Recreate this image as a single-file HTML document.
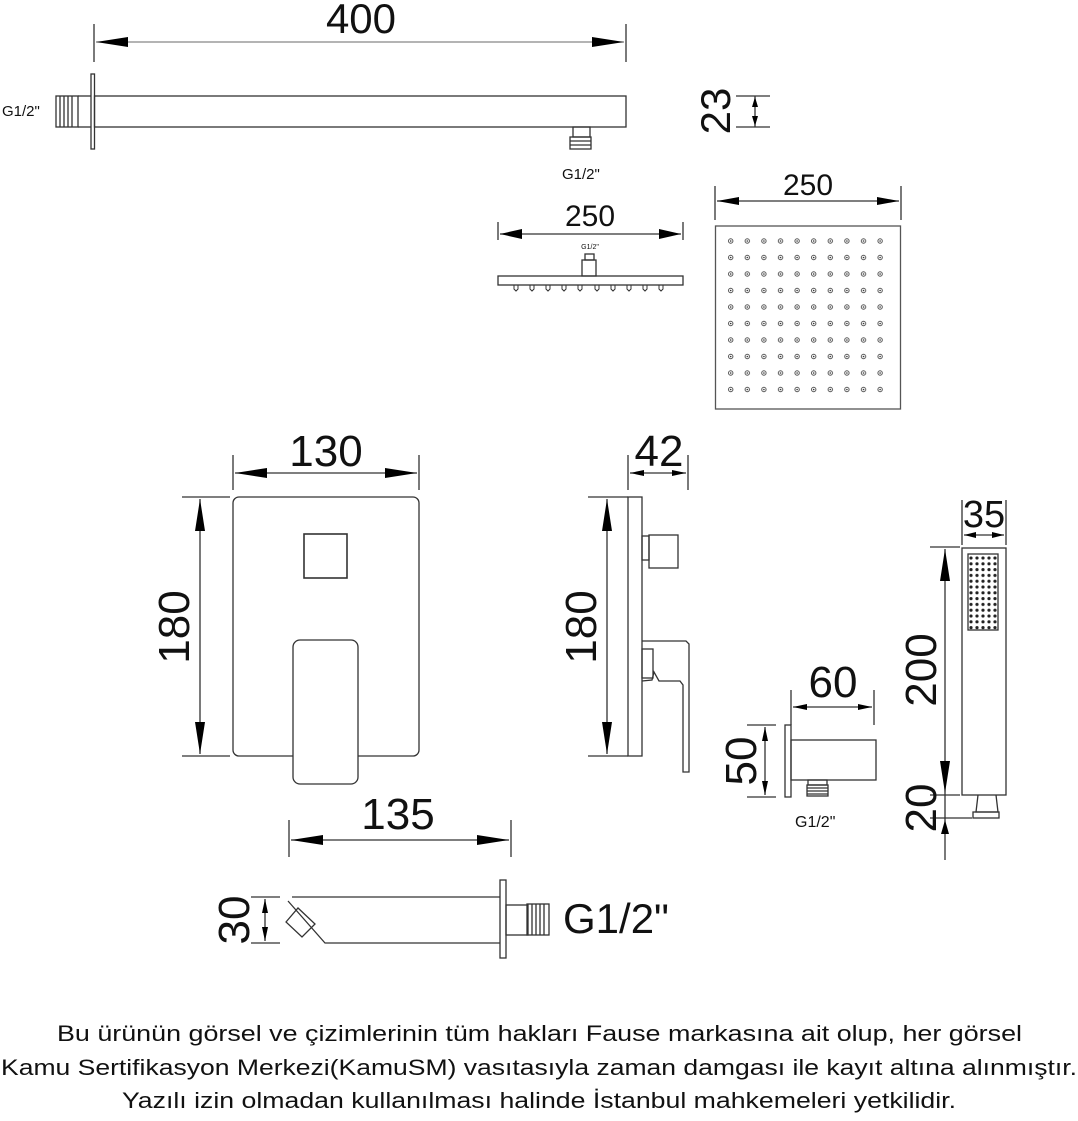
<!DOCTYPE html>
<html><head><meta charset="utf-8"><style>
html,body{margin:0;padding:0;background:#fff;}
svg{display:block;}
text{font-family:"Liberation Sans",sans-serif;fill:#111;}
</style></head><body>
<svg width="1078" height="1121" viewBox="0 0 1078 1121" xmlns="http://www.w3.org/2000/svg">
<defs>
<pattern id="dots" x="722.7" y="233" width="16.6" height="16.5" patternUnits="userSpaceOnUse">
<circle cx="8" cy="8" r="2.2" fill="none" stroke="#555" stroke-width="1"/><circle cx="8" cy="8" r="0.8" fill="#333"/>
</pattern>
<pattern id="hdots" x="968" y="555" width="6" height="5.8" patternUnits="userSpaceOnUse">
<circle cx="3" cy="3" r="1.6" fill="#222"/>
</pattern>
</defs>
<g stroke="#333" stroke-width="1.3" fill="none">
<line x1="94" y1="24" x2="94" y2="62"/><line x1="626" y1="24" x2="626" y2="62"/>
<line x1="96" y1="42" x2="624" y2="42" stroke="#888"/>
<rect x="91" y="74" width="3.5" height="75"/>
<rect x="94.5" y="96" width="531.5" height="31"/>
<rect x="56" y="96" width="22" height="31"/>
<line x1="60" y1="96" x2="60" y2="127"/><line x1="64" y1="96" x2="64" y2="127"/><line x1="68" y1="96" x2="68" y2="127"/><line x1="72" y1="96" x2="72" y2="127"/>
<line x1="78" y1="96" x2="91" y2="96"/><line x1="78" y1="127" x2="91" y2="127"/>
<rect x="573" y="127" width="17" height="10"/>
<rect x="570" y="137" width="21" height="12"/>
<line x1="570" y1="141" x2="591" y2="141"/><line x1="570" y1="145" x2="591" y2="145"/>
<line x1="736" y1="96" x2="770" y2="96"/><line x1="736" y1="127" x2="770" y2="127"/>
<line x1="755" y1="96" x2="755" y2="127"/>
<line x1="498" y1="222" x2="498" y2="240"/><line x1="683" y1="222" x2="683" y2="240"/>
<line x1="500" y1="234" x2="681" y2="234"/>
<rect x="498" y="276" width="185" height="9"/>
<rect x="582" y="260" width="14" height="16"/>
<rect x="585" y="254" width="9" height="6"/>
<line x1="715" y1="186" x2="715" y2="220"/><line x1="901" y1="186" x2="901" y2="220"/>
<line x1="717" y1="201" x2="899" y2="201"/>
<rect x="715.5" y="226" width="185" height="183" stroke="#555"/>
<line x1="233" y1="455" x2="233" y2="490"/><line x1="419" y1="455" x2="419" y2="490"/>
<line x1="235" y1="473" x2="417" y2="473"/>
<rect x="233" y="497" width="186" height="259" rx="6"/>
<rect x="304" y="534" width="43" height="44" stroke-width="1.6"/>
<rect x="293" y="640" width="65" height="144" rx="7" fill="#fff"/>
<line x1="182" y1="497" x2="230" y2="497"/><line x1="182" y1="756" x2="230" y2="756"/>
<line x1="200" y1="499" x2="200" y2="754"/>
<line x1="628" y1="455" x2="628" y2="490"/><line x1="688" y1="455" x2="688" y2="490"/>
<line x1="630" y1="473" x2="686" y2="473"/>
<rect x="628" y="497" width="14" height="259"/>
<rect x="642" y="536" width="7" height="24"/>
<rect x="649" y="535" width="29" height="33"/>
<line x1="588" y1="497" x2="628" y2="497"/><line x1="588" y1="756" x2="628" y2="756"/>
<line x1="607" y1="499" x2="607" y2="754"/>
<path d="M642,641 L686,641 L689,644 L689,772 L683,772 L683,685 L680,681 L659,681 L654,672 L652,680 L642,681"/>
<rect x="642" y="649" width="11" height="29"/>
<line x1="791" y1="690" x2="791" y2="725"/><line x1="874" y1="690" x2="874" y2="725"/>
<line x1="793" y1="707" x2="872" y2="707"/>
<rect x="785" y="725" width="6" height="72"/>
<rect x="791" y="740" width="85" height="40"/>
<rect x="808" y="780" width="19" height="5"/>
<rect x="807" y="785" width="21" height="11"/>
<line x1="807" y1="788" x2="828" y2="788"/><line x1="807" y1="791" x2="828" y2="791"/><line x1="807" y1="794" x2="828" y2="794"/>
<line x1="747" y1="725" x2="776" y2="725"/><line x1="747" y1="797" x2="776" y2="797"/>
<line x1="765" y1="727" x2="765" y2="795"/>
<line x1="962" y1="500" x2="962" y2="545"/><line x1="1006" y1="500" x2="1006" y2="545"/>
<line x1="964" y1="535" x2="1004" y2="535"/>
<rect x="962" y="548" width="44" height="247"/>
<rect x="968" y="554" width="30" height="76" fill="url(#hdots)"/>
<path d="M978,795 L976,812 L998,812 L996,795"/>
<rect x="973" y="812" width="26" height="6"/>
<line x1="930" y1="547" x2="960" y2="547"/><line x1="930" y1="795" x2="960" y2="795"/><line x1="930" y1="818" x2="972" y2="818"/>
<line x1="945" y1="549" x2="945" y2="860"/>
<line x1="289" y1="820" x2="289" y2="857"/><line x1="511" y1="820" x2="511" y2="857"/>
<line x1="291" y1="840" x2="509" y2="840"/>
<path d="M292,897 L500,897 M288,901 L325,943 L500,943"/>
<path d="M286,922 L298,908 L315,924 L302,937 Z"/>
<rect x="500" y="880" width="6" height="78"/>
<rect x="506" y="905" width="22" height="30"/>
<rect x="527" y="904" width="22" height="31"/>
<line x1="532" y1="904" x2="532" y2="935"/><line x1="536" y1="904" x2="536" y2="935"/><line x1="540" y1="904" x2="540" y2="935"/><line x1="544" y1="904" x2="544" y2="935"/>
<line x1="251" y1="897" x2="280" y2="897"/><line x1="251" y1="943" x2="280" y2="943"/>
<line x1="265" y1="899" x2="265" y2="941"/>
</g>
<g stroke="#333" stroke-width="1" fill="none">
<path d="M514,285 l0,4 l2,2 l2,-2 l0,-4 M530,285 l0,4 l2,2 l2,-2 l0,-4 M546,285 l0,4 l2,2 l2,-2 l0,-4 M562,285 l0,4 l2,2 l2,-2 l0,-4 M578,285 l0,4 l2,2 l2,-2 l0,-4 M595,285 l0,4 l2,2 l2,-2 l0,-4 M611,285 l0,4 l2,2 l2,-2 l0,-4 M627,285 l0,4 l2,2 l2,-2 l0,-4 M643,285 l0,4 l2,2 l2,-2 l0,-4 M659,285 l0,4 l2,2 l2,-2 l0,-4"/>
</g>
<rect x="723" y="233" width="166" height="165" fill="url(#dots)"/>
<g fill="#000">
<path d="M96,42 l32,-5 l0,10 z"/><path d="M624,42 l-32,-5 l0,10 z"/>
<path d="M755,97 l-3,10 l6,0 z"/><path d="M755,126 l-3,-10 l6,0 z"/>
<path d="M500,234 l22,-5 l0,10 z"/><path d="M681,234 l-22,-5 l0,10 z"/>
<path d="M717,201 l22,-4 l0,8 z"/><path d="M899,201 l-22,-4 l0,8 z"/>
<path d="M235,473 l32,-5 l0,10 z"/><path d="M417,473 l-32,-5 l0,10 z"/>
<path d="M200,499 l-5,32 l10,0 z"/><path d="M200,754 l-5,-32 l10,0 z"/>
<path d="M630,473 l14,-3 l0,6 z"/><path d="M686,473 l-14,-3 l0,6 z"/>
<path d="M607,499 l-5,32 l10,0 z"/><path d="M607,754 l-5,-32 l10,0 z"/>
<path d="M793,707 l14,-3 l0,6 z"/><path d="M872,707 l-14,-3 l0,6 z"/>
<path d="M765,727 l-3,14 l6,0 z"/><path d="M765,795 l-3,-14 l6,0 z"/>
<path d="M964,535 l12,-3 l0,6 z"/><path d="M1004,535 l-12,-3 l0,6 z"/>
<path d="M945,549 l-5,32 l10,0 z"/><path d="M945,793 l-5,-32 l10,0 z"/>
<path d="M945,820 l-4,14 l8,0 z"/>
<path d="M291,840 l32,-5 l0,10 z"/><path d="M509,840 l-32,-5 l0,10 z"/>
<path d="M265,899 l-3,14 l6,0 z"/><path d="M265,941 l-3,-14 l6,0 z"/>
</g>
<text x="361" y="33" font-size="42" text-anchor="middle">400</text>
<text x="2" y="116" font-size="15">G1/2"</text>
<text x="562" y="179" font-size="15">G1/2"</text>
<text transform="translate(730,111) rotate(-90)" font-size="42" text-anchor="middle">23</text>
<text x="590" y="226" font-size="30" text-anchor="middle">250</text>
<text x="590" y="249" font-size="7" text-anchor="middle">G1/2"</text>
<text x="808" y="195" font-size="30" text-anchor="middle">250</text>
<text x="326" y="466" font-size="44" text-anchor="middle">130</text>
<text transform="translate(189,627) rotate(-90)" font-size="44" text-anchor="middle">180</text>
<text x="659" y="466" font-size="44" text-anchor="middle">42</text>
<text transform="translate(596,627) rotate(-90)" font-size="44" text-anchor="middle">180</text>
<text x="833" y="697" font-size="44" text-anchor="middle">60</text>
<text transform="translate(756,761) rotate(-90)" font-size="44" text-anchor="middle">50</text>
<text x="795" y="827" font-size="16">G1/2"</text>
<text x="984" y="527" font-size="38" text-anchor="middle">35</text>
<text transform="translate(936,670) rotate(-90)" font-size="44" text-anchor="middle">200</text>
<text transform="translate(936,808) rotate(-90)" font-size="44" text-anchor="middle">20</text>
<text x="398" y="829" font-size="44" text-anchor="middle">135</text>
<text transform="translate(249,920) rotate(-90)" font-size="44" text-anchor="middle">30</text>
<text x="563" y="933" font-size="42">G1/2"</text>
<text x="57" y="1041" font-size="22" textLength="965" lengthAdjust="spacingAndGlyphs">Bu ürünün görsel ve çizimlerinin tüm hakları Fause markasına ait olup, her görsel</text>
<text x="1" y="1075" font-size="22" textLength="1076" lengthAdjust="spacingAndGlyphs">Kamu Sertifikasyon Merkezi(KamuSM) vasıtasıyla zaman damgası ile kayıt altına alınmıştır.</text>
<text x="122" y="1108" font-size="22" textLength="834" lengthAdjust="spacingAndGlyphs">Yazılı izin olmadan kullanılması halinde İstanbul mahkemeleri yetkilidir.</text>
</svg>
</body></html>
